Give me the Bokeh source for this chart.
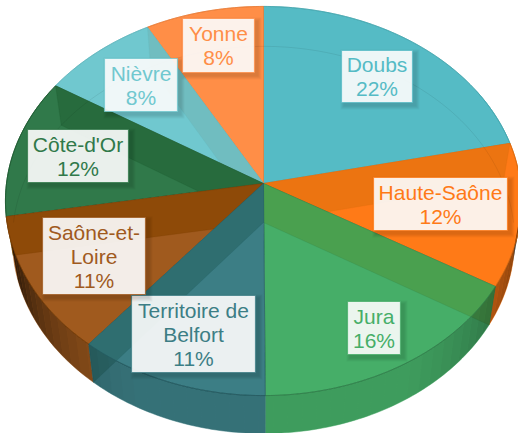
import math
from bokeh.plotting import figure
from bokeh.embed import file_html
from bokeh.resources import INLINE
from bokeh.core.properties import value

# ---- data
categories = ["Doubs", "Haute-Saône", "Jura", "Territoire de\nBelfort", "Saône-et-\nLoire",
              "Côte-d'Or", "Nièvre", "Yonne"]
shares = [21.6, 11.9, 16.4, 11.0, 11.4, 11.6, 8.0, 8.1]

# ---- styles
face_colors = ["#55BBC5", "#FF7A17", "#46AE68", "#3C7E85", "#A05A1E", "#30794A", "#70C8CF", "#FF8E47"]
band_colors = ["#55BBC5", "#EC7411", "#4AA04F", "#2F6E70", "#8E4A08", "#276B3D", "#70BDC0", "#FF8E47"]
edge_colors = ["#45A5AE", "#D86A10", "#2F7F4A", "#235A60", "#7A3E06", "#1F5A32", "#5FB5BC", "#E87B35"]
paint_order = [0, 7, 1, 6, 5, 4, 2, 3]

# ---- label layout: left, right, top, bottom of each box
label_boxes = [(341, 412, 50, 102), (373, 507, 177, 230), (347, 400, 301, 354), (131, 255, 295, 372),
               (42, 145, 217, 294), (27, 128, 129, 182), (104, 177, 58, 111), (182, 254, 18, 72)]
LINE_H = 24
FONT = "21px"

# ---- projection of the tilted pie
X0, K = 263.0, 0.09
TOP = dict(y0=183.0, a=257.0, b=193.0)
BOT = dict(y0=222.0, a=250.0, b=192.0)


def project(deg, ring):
    t = math.radians(deg)
    u, v = math.sin(t), -math.cos(t)
    d = 1 - K * v
    return X0 + ring["a"] * u / d, ring["y0"] + ring["b"] * v / d


def arc(a0, a1, ring, step=1.0):
    n = max(2, int(abs(a1 - a0) / step) + 1)
    return [project(a0 + (a1 - a0) * i / (n - 1), ring) for i in range(n)]


total = sum(shares)
starts, ends = [], []
acc = 0.0
for s in shares:
    starts.append(acc * 360 / total)
    acc += s
    ends.append(acc * 360 / total)

p = figure(width=518, height=433, x_range=(0, 518), y_range=(433, 0), output_backend="svg",
           toolbar_location=None, min_border=0, outline_line_color=None,
           background_fill_color=None, border_fill_color=None)
p.axis.visible = False
p.grid.visible = False


def poly(pts, **kw):
    p.patch([q[0] for q in pts], [q[1] for q in pts], **kw)


# opaque outer walls
for i in paint_order:
    a0, a1 = max(starts[i], 60), min(ends[i], 300)
    if a1 > a0:
        t, b = arc(a0, a1, TOP), arc(a0, a1, BOT)
        poly(t + b[::-1], fill_color=face_colors[i], line_color=face_colors[i], line_width=0.5)

# faces and inner walls
for i in paint_order:
    a0, a1 = starts[i], ends[i]
    poly([(X0, TOP["y0"])] + arc(a0, a1, TOP), fill_color=face_colors[i], line_color=edge_colors[i],
         line_width=1, line_alpha=0.6)
    wall_angle = a0 if a0 < 180 and i != 3 else a1
    if wall_angle % 360 != 0:
        poly([(X0, TOP["y0"]), project(wall_angle, TOP), project(wall_angle, BOT), (X0, BOT["y0"])],
             fill_color=band_colors[i], line_color=edge_colors[i], line_width=0.6, line_alpha=0.35)

# shading of the outer wall
A_MIN, A_MAX = 97.0, 253.0
steps = 52
for k in range(steps):
    a0 = A_MIN + (A_MAX - A_MIN) * k / steps
    a1 = A_MIN + (A_MAX - A_MIN) * (k + 1) / steps
    mid = (a0 + a1) / 2
    if mid < 180:
        shade = 0.10 + 0.45 * max(0.0, (150 - mid) / 53) ** 1.3
    else:
        shade = 0.10 + 0.62 * max(0.0, (mid - 205) / 48) ** 1.6
    t, b = arc(a0, a1, TOP), arc(a0, a1, BOT)
    poly(t + b[::-1], fill_color="#000000", fill_alpha=shade, line_color=None)

# rims
for i in range(len(shares)):
    pts = arc(starts[i], ends[i], TOP)
    p.line([q[0] for q in pts], [q[1] for q in pts], line_color=edge_colors[i], line_width=1, line_alpha=0.7)
pts = arc(-90, 90, BOT)
p.line([q[0] for q in pts], [q[1] for q in pts], line_color="#000000", line_width=1, line_alpha=0.07)

# labels
for i, name in enumerate(categories):
    l, r, t, b = label_boxes[i]
    for g in range(1, 5):
        p.quad(left=[l + 3 - g], right=[r + 3 + g], top=[t + 3 - g], bottom=[b + 3 + g],
               fill_color="#000000", fill_alpha=0.035, line_color=None)
    p.quad(left=[l], right=[r], top=[t], bottom=[b], fill_color="#FFFFFF", fill_alpha=0.9,
           line_color=face_colors[i], line_width=1.2, line_alpha=0.75)
    lines = name.split("\n") + [f"{round(100 * shares[i] / total)}%"]
    cx, cy = (l + r) / 2, (t + b) / 2
    for j, txt in enumerate(lines):
        p.text([cx], [cy + (j - (len(lines) - 1) / 2) * LINE_H], text=[txt], text_color=face_colors[i],
               text_font=value("Liberation Sans"), text_font_size=FONT,
               text_align="center", text_baseline="middle")

open("out.html", "w").write(file_html(p, INLINE))
